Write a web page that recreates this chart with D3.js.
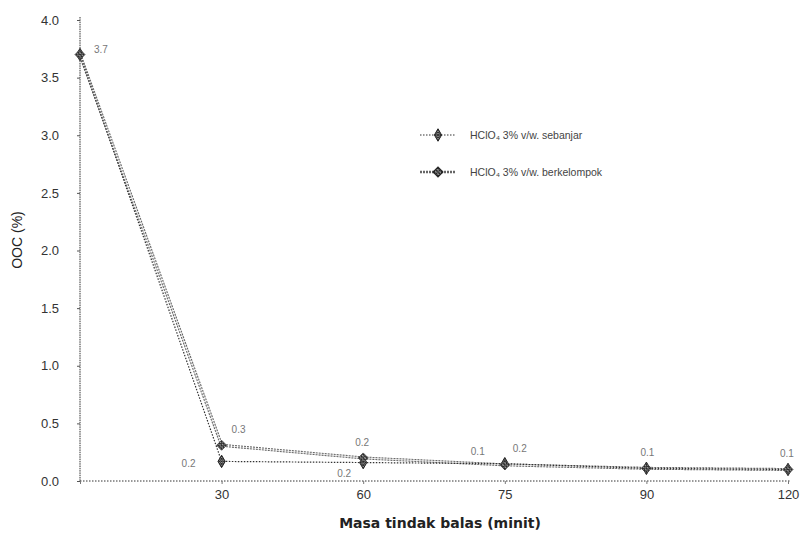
<!DOCTYPE html>
<html>
<head>
<meta charset="utf-8">
<script src="https://cdn.jsdelivr.net/npm/d3@7"></script>
<style>
body { margin: 0; background: #fff; }
svg { display: block; }
</style>
</head>
<body>
<div id="chart"></div>
<script>
// data
var categories = ["0", "30", "60", "75", "90", "120"];
var tickLabels = ["", "30", "60", "75", "90", "120"];
var yTicks = [0, 0.5, 1.0, 1.5, 2.0, 2.5, 3.0, 3.5, 4.0];
var sebanjar = [3.7, 0.17, 0.16, 0.15, 0.11, 0.1];
var berkelompok = [3.7, 0.31, 0.2, 0.14, 0.11, 0.1];
var labelsSebanjar = ["", "0.2", "0.2", "0.2", "", ""];
var labelsBerkelompok = ["3.7", "0.3", "0.2", "0.1", "0.1", "0.1"];
var seriesNames = ["HClO\u2084 3% v/w. sebanjar", "HClO\u2084 3% v/w. berkelompok"];

var width = 801, height = 540;
var margin = {left: 80, right: 13, top: 20, bottom: 59};

var svg = d3.select("#chart").append("svg")
    .attr("width", width)
    .attr("height", height);

var x = d3.scalePoint()
    .domain(categories)
    .range([margin.left, width - margin.right]);

var y = d3.scaleLinear()
    .domain([0, 4])
    .range([height - margin.bottom, margin.top]);

//Hatch pattern for the markers
var defs = svg.append("defs");
var pat = defs.append("pattern")
    .attr("id", "hatch")
    .attr("patternUnits", "userSpaceOnUse")
    .attr("width", 2.5).attr("height", 2.5);
pat.append("rect").attr("width", 2.5).attr("height", 2.5).attr("fill", "#ddd");
pat.append("path").attr("d", "M0,0L2.5,2.5M2.5,0L0,2.5").attr("stroke", "#222").attr("stroke-width", 1);

// axes
var yAxis = d3.axisLeft(y)
    .tickValues(yTicks)
    .tickFormat(d3.format(".1f"))
    .tickSize(3)
    .tickPadding(18);
var gy = svg.append("g")
    .attr("transform", "translate(" + margin.left + ",0)")
    .call(yAxis);
gy.select(".domain")
    .attr("d", "M0," + (margin.top - 3) + "V" + y(0))
    .attr("stroke", "#333")
    .attr("stroke-dasharray", "1.5,0.8");
gy.selectAll(".tick line").attr("stroke", "#555");
gy.selectAll(".tick text")
    .attr("font-family", "Liberation Sans, Arial, sans-serif")
    .attr("font-size", 13)
    .attr("fill", "#333");

var xAxis = d3.axisBottom(x)
    .tickFormat(function(d, i){ return tickLabels[i]; })
    .tickSize(3)
    .tickPadding(6);
var gx = svg.append("g")
    .attr("transform", "translate(0," + y(0) + ")")
    .call(xAxis);
gx.select(".domain")
    .attr("d", "M" + margin.left + ",0H" + (width - margin.right + 2))
    .attr("stroke", "#333")
    .attr("stroke-dasharray", "1.5,1.5");
gx.selectAll(".tick line").attr("stroke", "#777");
gx.selectAll(".tick text")
    .attr("font-family", "Liberation Sans, Arial, sans-serif")
    .attr("font-size", 13)
    .attr("fill", "#333");

// axis titles
svg.append("text")
    .attr("x", 440)
    .attr("y", 528)
    .attr("text-anchor", "middle")
    .attr("font-family", "DejaVu Sans, sans-serif")
    .attr("font-weight", "bold")
    .attr("font-size", 14)
    .attr("fill", "#222")
    .text("Masa tindak balas (minit)");

svg.append("text")
    .attr("transform", "translate(22," + 240 + ") rotate(-90)")
    .attr("text-anchor", "middle")
    .attr("font-family", "Liberation Sans, Arial, sans-serif")
    .attr("font-size", 14)
    .attr("fill", "#222")
    .text("OOC (%)");

var line = d3.line()
    .x(function(d, i){ return x(categories[i]); })
    .y(function(d){ return y(d); });

// series 2 (berkelompok) - thicker double-ish grey line
svg.append("path")
    .datum(berkelompok)
    .attr("d", line)
    .attr("fill", "none")
    .attr("stroke", "#666")
    .attr("stroke-width", 3)
    .attr("stroke-dasharray", "2,1");
svg.append("path")
    .datum(berkelompok)
    .attr("d", line)
    .attr("fill", "none")
    .attr("stroke", "#fff")
    .attr("stroke-width", 0.8);

// series 1 (sebanjar) - thin dotted dark line
svg.append("path")
    .datum(sebanjar)
    .attr("d", line)
    .attr("fill", "none")
    .attr("stroke", "#333")
    .attr("stroke-width", 1.2)
    .attr("stroke-dasharray", "1.5,1.5");

// markers
var diamond = d3.symbol().type(d3.symbolDiamond).size(45);
var square = d3.symbol().type(d3.symbolSquare).size(50);

svg.selectAll(".m1")
    .data(sebanjar)
    .enter()
    .append("path")
    .attr("class", "m1")
    .attr("transform", function(d, i){ return "translate(" + x(categories[i]) + "," + y(d) + ")"; })
    .attr("d", diamond)
    .attr("fill", "url(#hatch)")
    .attr("stroke", "#222")
    .attr("stroke-width", 1);

svg.selectAll(".m2")
    .data(berkelompok)
    .enter()
    .append("path")
    .attr("class", "m2")
    .attr("transform", function(d, i){ return "translate(" + x(categories[i]) + "," + y(d) + ") rotate(45)"; })
    .attr("d", square)
    .attr("fill", "url(#hatch)")
    .attr("stroke", "#444")
    .attr("stroke-width", 0.8);

// data labels
var lblOffsets1 = [[0, 0], [-40, 6], [-26, 14], [8, -12], [0, 0], [0, 0]];
var lblOffsets2 = [[14, -2], [10, -12], [-8, -12], [-34, -10], [-6, -12], [-8, -12]];

function addLabels(vals, labels, offs){
    svg.append("g").selectAll("text")
        .data(vals)
        .enter()
        .append("text")
        .attr("x", function(d, i){ return x(categories[i]) + offs[i][0]; })
        .attr("y", function(d, i){ return y(d) + offs[i][1]; })
        .attr("font-family", "Liberation Sans, Arial, sans-serif")
        .attr("font-size", 10)
        .attr("fill", "#777")
        .text(function(d, i){ return labels[i]; });
}
addLabels(sebanjar, labelsSebanjar, lblOffsets1);
addLabels(berkelompok, labelsBerkelompok, lblOffsets2);

// legend
var legend = svg.append("g").attr("transform", "translate(420,135)");
seriesNames.forEach(function(name, i){
    var g = legend.append("g").attr("transform", "translate(0," + (i * 37) + ")");
    g.append("line")
        .attr("x1", 0).attr("x2", 36)
        .attr("stroke", i == 0 ? "#333" : "#666")
        .attr("stroke-width", i == 0 ? 1.2 : 2.5)
        .attr("stroke-dasharray", i == 0 ? "1.5,1.5" : "2,1");
    g.append("path")
        .attr("transform", "translate(18,0)" + (i == 1 ? " rotate(45)" : ""))
        .attr("d", i == 0 ? diamond : square)
        .attr("fill", "url(#hatch)")
        .attr("stroke", "#222")
        .attr("stroke-width", 1);
    g.append("text")
        .attr("x", 50)
        .attr("y", 4)
        .attr("font-family", "Liberation Sans, Arial, sans-serif")
        .attr("font-size", 10.5)
        .attr("fill", "#444")
        .text(name);
});
</script>
</body>
</html>
